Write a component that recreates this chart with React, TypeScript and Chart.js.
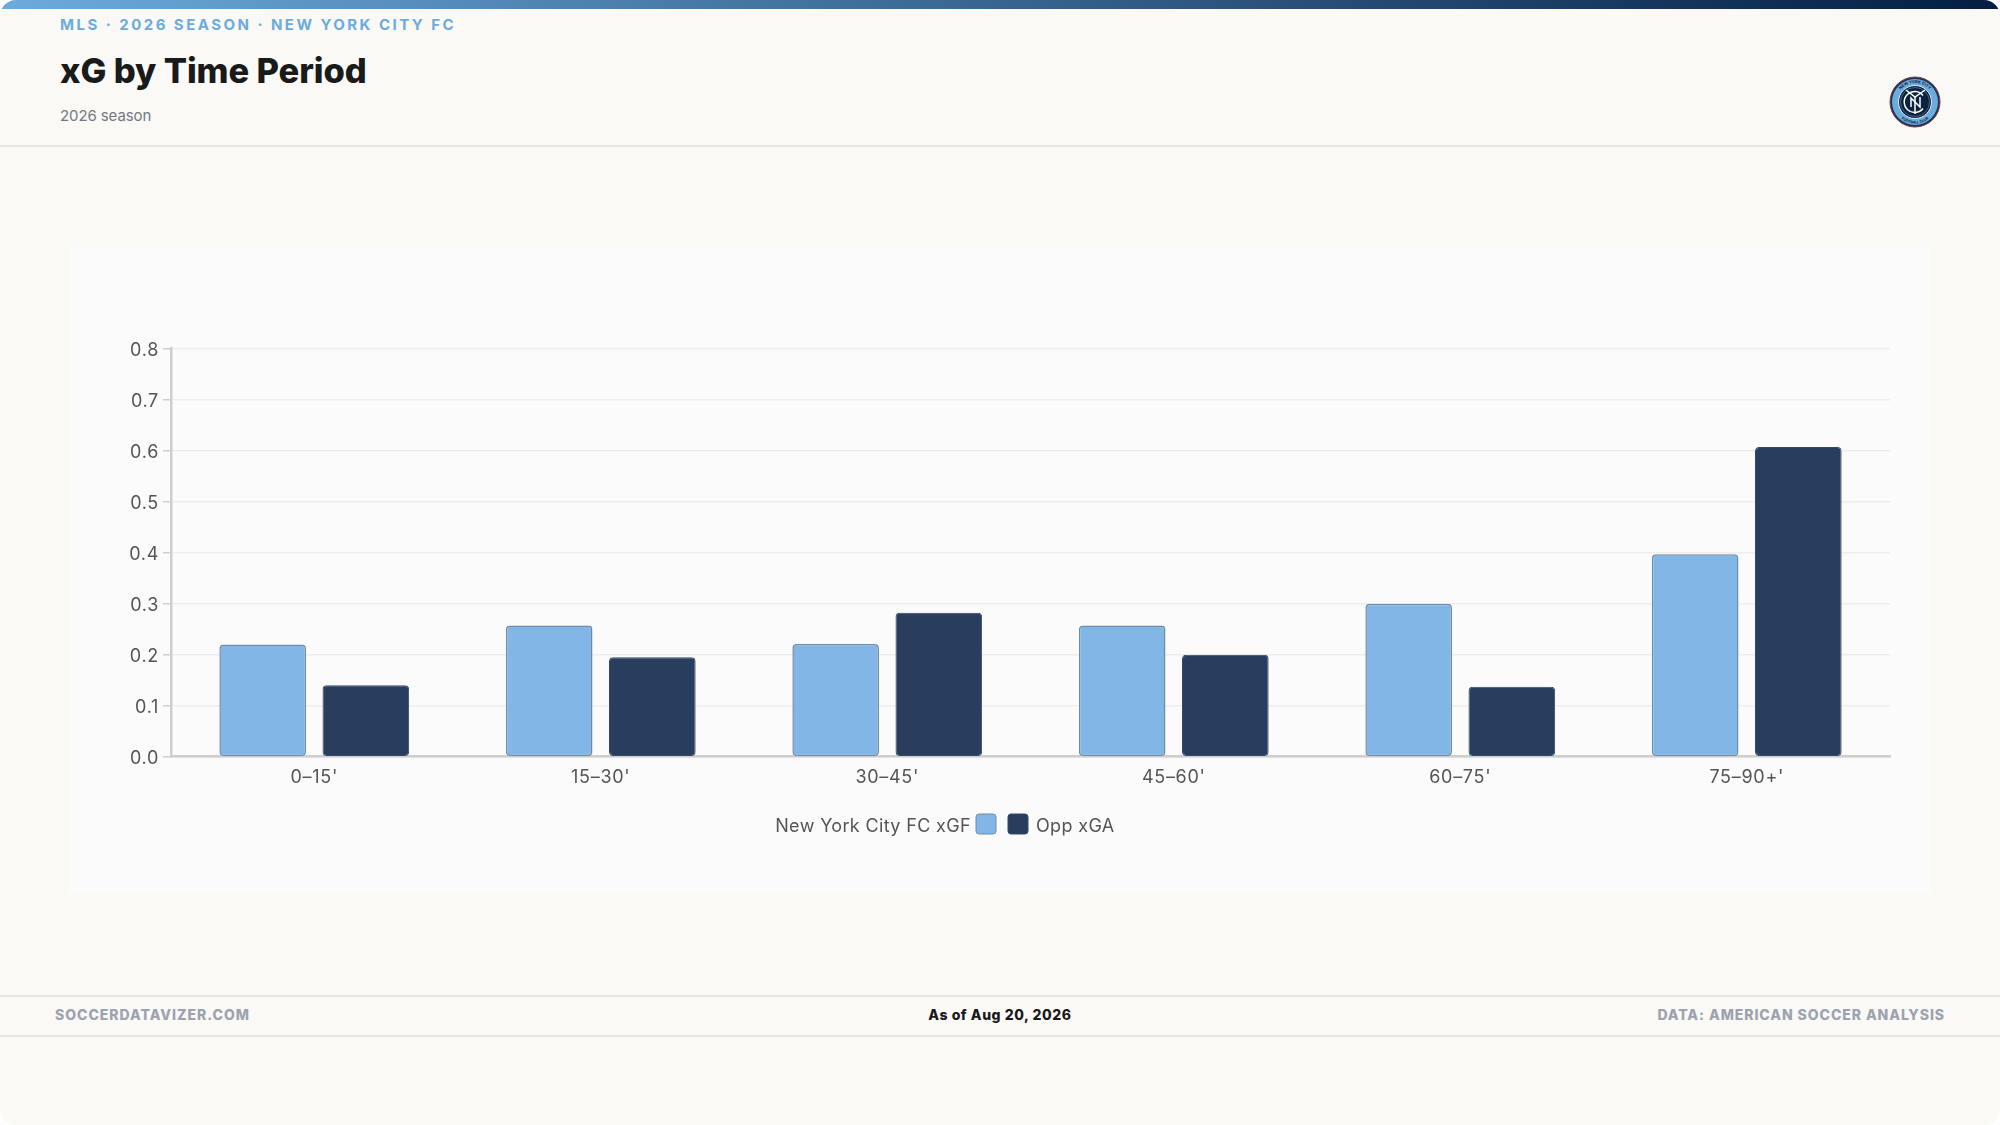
import { useEffect, useRef } from "react";
import { Chart, registerables, Plugin } from "chart.js";

Chart.register(...registerables);

const periods = ["0–15'", "15–30'", "30–45'", "45–60'", "60–75'", "75–90+'"];
const xgfValues = [0.22, 0.257, 0.221, 0.257, 0.3, 0.397];
const xgaValues = [0.14, 0.195, 0.282, 0.2, 0.137, 0.607];
const yTicks = [0, 0.1, 0.2, 0.3, 0.4, 0.5, 0.6, 0.7, 0.8];

const FONT = "Inter, sans-serif";
const LIGHT = "#81B6E7";
const DARK = "#293E5E";

// Legend has the first label left of its swatch and the second right of it
const splitLegend: Plugin<"bar"> = {
  id: "splitLegend",
  beforeDraw(chart) {
    (chart.ctx as any).letterSpacing = "0.7px";
  },
  afterDraw(chart) {
    const { ctx } = chart;
    const [first, second] = chart.data.datasets;
    const textY = 582;
    const boxY = 579;
    ctx.save();
    ctx.font = `18px ${FONT}`;
    (ctx as any).letterSpacing = "0.35px";
    ctx.fillStyle = "#555555";
    ctx.textBaseline = "middle";
    ctx.textAlign = "right";
    ctx.fillText(first.label as string, 901, textY);
    ctx.textAlign = "left";
    ctx.fillText(second.label as string, 966, textY);
    [
      { x: 906, ds: first },
      { x: 938, ds: second },
    ].forEach(({ x, ds }) => {
      ctx.beginPath();
      ctx.roundRect(x, boxY - 10, 20, 20, 3);
      ctx.fillStyle = ds.backgroundColor as string;
      ctx.fill();
      ctx.lineWidth = 1;
      ctx.strokeStyle = ds.borderColor as string;
      ctx.stroke();
    });
    ctx.restore();
  },
};

function BarChart() {
  const chartRef = useRef<HTMLCanvasElement>(null);

  useEffect(() => {
    if (!chartRef.current) return;
    const chart = new Chart(chartRef.current, {
      type: "bar",
      data: {
        labels: periods,
        datasets: [
          {
            label: "New York City FC xGF",
            data: xgfValues,
            backgroundColor: LIGHT,
            borderColor: "#6F8CAB",
            borderWidth: 1.5,
            borderRadius: 4,
            borderSkipped: false,
          },
          {
            label: "Opp xGA",
            data: xgaValues,
            backgroundColor: DARK,
            borderColor: "#35486A",
            borderWidth: 1,
            borderRadius: 4,
            borderSkipped: false,
          },
        ],
      },
      options: {
        animation: false,
        responsive: false,
        layout: { padding: { top: 103.5, right: 40, bottom: 0, left: 0 } },
        datasets: { bar: { categoryPercentage: 0.72, barPercentage: 0.84 } },
        plugins: { legend: { display: false }, tooltip: { enabled: false } },
        scales: {
          x: {
            grid: { display: false, drawTicks: false },
            border: { color: "#CECECE", width: 2.5 },
            ticks: {
              color: "#555555",
              font: { family: FONT, size: 18 },
              padding: 10,
              maxRotation: 0,
            },
            afterFit(scale) {
              scale.height = 136.3;
            },
          },
          y: {
            min: 0,
            max: 0.8,
            afterBuildTicks(scale) {
              scale.ticks = yTicks.map((value) => ({ value }));
            },
            grid: { color: "#EEEEEE", lineWidth: 1.5, tickColor: "#CECECE", tickLength: 8 },
            border: { color: "#CECECE", width: 2.5 },
            ticks: {
              color: "#555555",
              // blank first line + 4px line height drops the label 2px so it sits like the original
              font: { family: FONT, size: 18, lineHeight: "4px" },
              padding: 4,
              callback: (v) => ["", Number(v).toFixed(1)],
            },
            afterFit(scale) {
              scale.width = 101;
            },
          },
        },
      },
      plugins: [splitLegend],
    });
    return () => chart.destroy();
  }, []);

  return <canvas ref={chartRef} width={1860} height={648} style={{ position: "absolute", left: 70, top: 245 }} />;
}

function Crest() {
  return (
    <svg width="52" height="52" viewBox="0 0 52 52" style={{ position: "absolute", left: 1889, top: 76 }}>
      <defs>
        <path id="crestTop" d="M 7 26 A 19 19 0 0 1 45 26" />
        <path id="crestBottom" d="M 4.4 26 A 21.6 21.6 0 0 0 47.6 26" />
      </defs>
      <circle cx="26" cy="26" r="25" fill="#1C3557" stroke="#7A3B3B" strokeWidth="1" />
      <circle cx="26" cy="26" r="23" fill="#6CABDD" />
      <circle cx="26" cy="26" r="16.5" fill="#0C2340" stroke="#E4ECF2" strokeWidth="1" />
      <circle cx="26" cy="26" r="14.5" fill="none" stroke="#6CABDD" strokeWidth="0.5" />
      <text fontFamily={FONT} fontSize="4" fontWeight="700" fill="#0C2340" textAnchor="middle">
        <textPath href="#crestTop" startOffset="50%">NEW YORK CITY</textPath>
      </text>
      <text fontFamily={FONT} fontSize="3.6" fontWeight="700" fill="#0C2340" textAnchor="middle">
        <textPath href="#crestBottom" startOffset="50%">FOOTBALL CLUB</textPath>
      </text>
      <g fill="none" stroke="#FFFFFF" strokeWidth="1.5">
        <path d="M 17 14 L 26 21 L 36 14" />
        <path d="M 26 21 L 26 38" />
        <path d="M 34 19.5 A 10.5 10.5 0 1 0 34 32.5" />
        <path d="M 22 31 L 22 22 L 31 31 L 31 21" />
      </g>
    </svg>
  );
}

const lineStyle = (top: number) => ({
  position: "absolute" as const,
  left: 0,
  width: 2000,
  top,
  height: 2,
  background: "#E5E4DF",
});

const textStyle = (left: number, top: number, size: number, weight: number, color: string, spacing: number) => ({
  position: "absolute" as const,
  left,
  top,
  fontSize: size,
  lineHeight: `${size + 4}px`,
  fontWeight: weight,
  color,
  letterSpacing: spacing,
  whiteSpace: "nowrap" as const,
});

export default function App() {
  return (
    <div
      style={{
        position: "fixed",
        inset: 0,
        background: "#FFFFFF",
        fontFamily: FONT,
      }}
    >
      <div
        style={{
          position: "absolute",
          left: 0,
          top: 0,
          width: 2000,
          height: 1125,
          background: "#FAF9F6",
          borderRadius: 16,
          overflow: "hidden",
        }}
      >
        <div
          style={{
            position: "absolute",
            left: 0,
            top: 0,
            width: 2000,
            height: 9,
            background: "linear-gradient(90deg, #6CABDD, #041E42)",
          }}
        />
        <div style={textStyle(60, 15, 15, 700, "#6CABDD", 2.47)}>MLS · 2026 SEASON · NEW YORK CITY FC</div>
        <div style={textStyle(60, 52, 34.5, 800, "#1A1A1A", -0.1)}>xG by Time Period</div>
        <div style={textStyle(60, 106, 15, 400, "#737880", -0.1)}>2026 season</div>
        <Crest />
        <div style={lineStyle(145)} />

        <div style={{ position: "absolute", left: 70, top: 247, width: 1860, height: 646, background: "#FBFBFC" }} />
        <BarChart />

        <div style={lineStyle(995)} />
        <div style={textStyle(55, 1006, 14, 800, "#9CA3AF", 0.98)}>SOCCERDATAVIZER.COM</div>
        <div style={{ ...textStyle(1000, 1006, 14, 800, "#1A1A1A", 0.57), transform: "translateX(-50%)" }}>
          As of Aug 20, 2026
        </div>
        <div style={{ ...textStyle(0, 1006, 14, 800, "#9CA3AF", 0.93), left: "auto", right: 55 }}>
          DATA: AMERICAN SOCCER ANALYSIS
        </div>
        <div style={lineStyle(1035)} />
      </div>
    </div>
  );
}
